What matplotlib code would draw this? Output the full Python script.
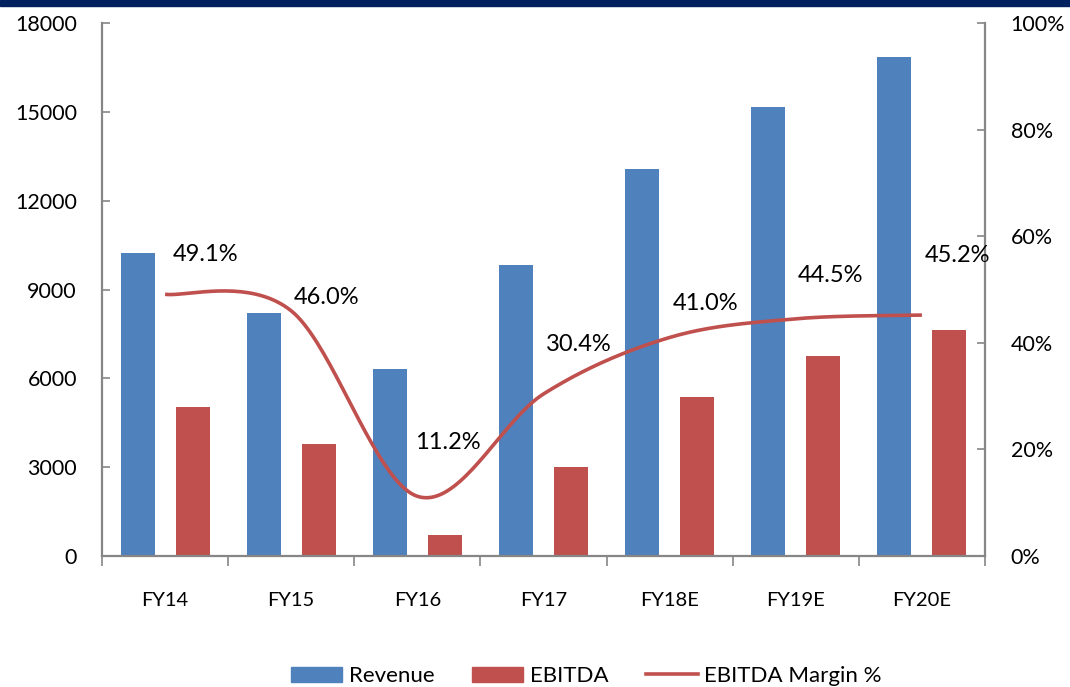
import numpy as np
import matplotlib.pyplot as plt
from matplotlib.patches import Patch, Rectangle
from matplotlib.lines import Line2D
from matplotlib.ticker import FuncFormatter

years = ['FY14', 'FY15', 'FY16', 'FY17', 'FY18E', 'FY19E', 'FY20E']
revenue = [10230, 8210, 6320, 9830, 13070, 15160, 16850]
ebitda = [5020, 3780, 710, 2990, 5360, 6750, 7620]
margin = [49.1, 46.0, 11.2, 30.4, 41.0, 44.5, 45.2]

# label offsets in pixels from each margin point
label_dx = [8, 3, -2, 2, 3, 2, 3]
label_dy = [40, 13, 54, 49, 34, 43, 60]

blue = '#4F81BD'
red = '#C0504D'
grey = '#868686'
font = ['Lato', 'DejaVu Sans']


def smooth(x, y, n=40):
    # catmull-rom style curve through the points, like a smoothed office line
    x = np.asarray(x, float)
    y = np.asarray(y, float)
    px = np.concatenate([[x[0]], x, [x[-1]]])
    py = np.concatenate([[y[0]], y, [y[-1]]])
    xs, ys = [], []
    for i in range(1, len(px) - 2):
        p0, p1, p2, p3 = (px[i - 1], py[i - 1]), (px[i], py[i]), (px[i + 1], py[i + 1]), (px[i + 2], py[i + 2])
        c1 = (p1[0] + (p2[0] - p0[0]) / 6, p1[1] + (p2[1] - p0[1]) / 6)
        c2 = (p2[0] - (p3[0] - p1[0]) / 6, p2[1] - (p3[1] - p1[1]) / 6)
        t = np.linspace(0, 1, n)
        for k in range(2):
            pts = [p1[k], c1[k], c2[k], p2[k]]
            b = ((1 - t) ** 3 * pts[0] + 3 * (1 - t) ** 2 * t * pts[1]
                 + 3 * (1 - t) * t ** 2 * pts[2] + t ** 3 * pts[3])
            (xs if k == 0 else ys).append(b)
    return np.concatenate(xs), np.concatenate(ys)


plt.rcParams['font.family'] = font

fig = plt.figure(figsize=(10.7, 6.87), dpi=100)
ax = fig.add_axes([102 / 1070, 1 - 556 / 687, 883 / 1070, 533 / 687])
ax2 = ax.twinx()

x = np.arange(len(years))
w = 0.27
ax.bar(x - 0.218, revenue, w, color=blue, zorder=2)
ax.bar(x + 0.218, ebitda, w, color=red, zorder=2)

ax.set_xlim(-0.5, len(years) - 0.5)
ax.set_ylim(0, 18000)
ax.set_yticks(np.arange(0, 18001, 3000))
ax.set_xticks(np.arange(-0.5, len(years), 1))
ax.set_xticklabels([])
ax.set_xticks(x, minor=True)
ax.set_xticklabels(years, minor=True)

ax2.set_ylim(0, 1)
ax2.set_yticks(np.arange(0, 1.01, 0.2))
ax2.yaxis.set_major_formatter(FuncFormatter(lambda v, p: f'{v * 100:.0f}%'))

mx, my = smooth(x, np.array(margin) / 100)
ax2.plot(mx, my, color=red, lw=2.6, solid_capstyle='butt', zorder=3)

for i, m in enumerate(margin):
    ax2.annotate(f'{m:.1f}%', (x[i], m / 100), xytext=(label_dx[i], label_dy[i]),
                 textcoords='offset pixels', ha='left', va='center',
                 fontsize=17, color='black')

for a in (ax, ax2):
    a.spines['top'].set_visible(False)
    for s in ('left', 'right', 'bottom'):
        a.spines[s].set_color(grey)
        a.spines[s].set_linewidth(1.6)
ax.spines['right'].set_visible(False)
ax2.spines['left'].set_visible(False)
ax2.spines['bottom'].set_visible(False)

ax.tick_params(axis='y', direction='in', length=6, width=1.2, color=grey,
               labelsize=15.5, pad=18)
ax2.tick_params(axis='y', direction='in', length=6, width=1.2, color=grey,
                labelsize=15.5, pad=18.5)
ax.tick_params(axis='x', which='major', direction='out', length=7, width=1.2, color=grey)
ax.tick_params(axis='x', which='minor', length=0, labelsize=14.5, pad=26)

# navy band across the top edge
fig.patches.append(Rectangle((0, 1 - 6 / 687), 1, 6 / 687, transform=fig.transFigure,
                             color='#002060', zorder=5))

handles = [Patch(color=blue, label='Revenue'),
           Patch(color=red, label='EBITDA'),
           Line2D([], [], color=red, lw=2.6, label='EBITDA Margin %')]
fig.legend(handles=handles, loc='center', bbox_to_anchor=(0.548, 1 - 676 / 687),
           ncol=3, frameon=False, handlelength=2.3, handleheight=0.65,
           handletextpad=0.3, columnspacing=1.7, prop={'size': 16})

fig.savefig('out.png', dpi=100)
